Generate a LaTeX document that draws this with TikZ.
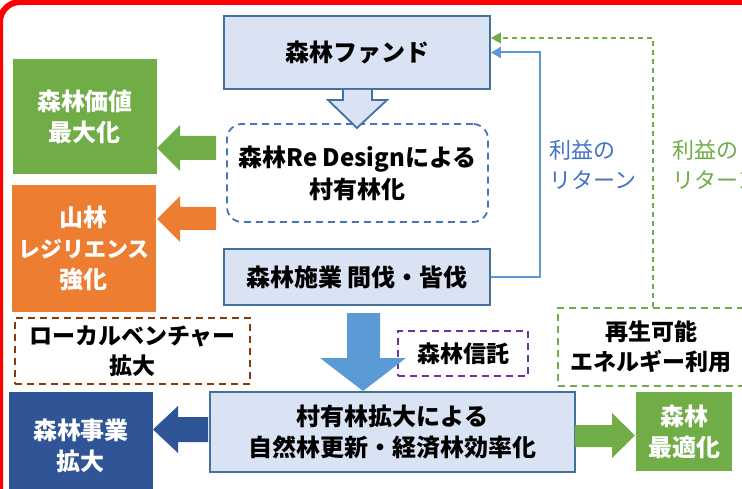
\documentclass[tikz,border=0pt]{standalone}
\usepackage{fontspec}
\setmainfont{Noto Sans CJK JP}
\usetikzlibrary{positioning,arrows.meta,calc}

\definecolor{boxfill}{HTML}{DAE3F3}
\definecolor{boxline}{HTML}{41719C}
\definecolor{mygreen}{HTML}{70AD47}
\definecolor{myorange}{HTML}{ED7D31}
\definecolor{mynavy}{HTML}{2F5597}
\definecolor{arrowblue}{HTML}{5B9BD5}
\definecolor{dashblue}{HTML}{4472C4}
\definecolor{mypurple}{HTML}{7030A0}
\definecolor{mybrown}{HTML}{843C0C}

\tikzset{
  flowbox/.style={draw=boxline, fill=boxfill, line width=1.8pt, align=center,
    font=\fontsize{24}{31}\selectfont\bfseries, inner sep=0pt},
  colbox/.style={fill=#1, align=center, text=white,
    font=\fontsize{24}{31}\selectfont\bfseries, inner sep=0pt},
  dashbox/.style={draw=#1, line width=1.8pt, dash pattern=on 7pt off 5pt,
    align=center, font=\fontsize{23}{30}\selectfont\bfseries, inner sep=0pt},
  retlabel/.style={text=#1, align=left, anchor=west, font=\fontsize{22}{30}\selectfont},
}

\begin{document}
\begin{tikzpicture}[x=1pt,y=-1pt]
  \useasboundingbox (0,0) rectangle (742,489);
  % frame
  \draw[red, line width=6pt, rounded corners=20pt] (0,2) rectangle (800,600);

  % boxes in the middle column
  \node[flowbox, minimum width=266pt, minimum height=73pt] (fund) at (357,52.5) {森林ファンド};
  \node[dashbox=dashblue, rounded corners=15pt, minimum width=261pt, minimum height=98pt,
    font=\fontsize{24}{32}\selectfont\bfseries] (redesign) at (357.5,173) {森林Re Designによる\\村有林化};
  \node[flowbox, minimum width=266pt, minimum height=56pt] (sesyo) at (357,277) {森林施業\ 間伐・皆伐};
  \node[flowbox, minimum width=365pt, minimum height=80pt] (kakudai) at (392.5,432) {村有林拡大による\\自然林更新・経済林効率化};

  % left side
  \node[colbox=mygreen, minimum width=144pt, minimum height=115pt] (kachi) at (85,116.5) {森林価値\\最大化};
  \node[colbox=myorange, minimum width=144pt, minimum height=127pt] (resil) at (84,248.5)
    {山林\\{\fontsize{22}{31}\selectfont レジリエンス}\\強化};
  \node[dashbox=mybrown, minimum width=235pt, minimum height=66pt] (venture) at (132.5,351) {ローカルベンチャー\\拡大};
  \node[colbox=mynavy, minimum width=144pt, minimum height=108pt] (jigyo) at (81,446) {森林事業\\拡大};

  % right side
  \node[dashbox=mypurple, minimum width=130pt, minimum height=45pt] (shintaku) at (463,353.5) {森林信託};
  \node[dashbox=mygreen, minimum width=186pt, minimum height=78pt] (energy) at (651,347) {再生可能\\エネルギー利用};
  \node[colbox=mygreen, minimum width=96pt, minimum height=79pt] (saiteki) at (684,431.5) {森林\\最適化};

  % block arrows
  \filldraw[fill=boxfill, draw=boxline, line width=1.8pt, line join=miter]
    (343,90) -- (343,100) -- (328,100) -- (357,128) -- (387,100) -- (372,100) -- (372,90);
  \fill[mygreen] (216,136) -- (180,136) -- (180,125) -- (157,148) -- (180,171) -- (180,160) -- (216,160) -- cycle;
  \fill[myorange] (216,207) -- (180,207) -- (180,196) -- (157,219) -- (180,242) -- (180,230) -- (216,230) -- cycle;
  \fill[mynavy] (208,417) -- (178,417) -- (178,406) -- (153,429.5) -- (178,453) -- (178,442) -- (208,442) -- cycle;
  \fill[arrowblue] (347,313) -- (347,358) -- (320,358) -- (363,391) -- (406,358) -- (380,358) -- (380,313) -- cycle;
  \fill[mygreen] (575,425) -- (612,425) -- (612,413) -- (635,435.5) -- (612,458) -- (612,447) -- (575,447) -- cycle;

  % returns
  \draw[arrowblue, line width=2pt, -{Triangle[length=10pt,width=11pt]}]
    (sesyo.east) -- ++(49,0) |- (fund.east);
  \draw[mygreen, line width=1.2pt, dash pattern=on 5pt off 4pt, -{Triangle[length=10pt,width=11pt]}]
    ([xshift=2pt]energy.north) |- ([yshift=14.5pt]fund.east);
  \node[retlabel=dashblue] (rieki1) at (546,165) {利益の\\リターン};
  \node[retlabel=mygreen] (rieki2) at (669,165) {利益の\\リターン};
\end{tikzpicture}
\end{document}
